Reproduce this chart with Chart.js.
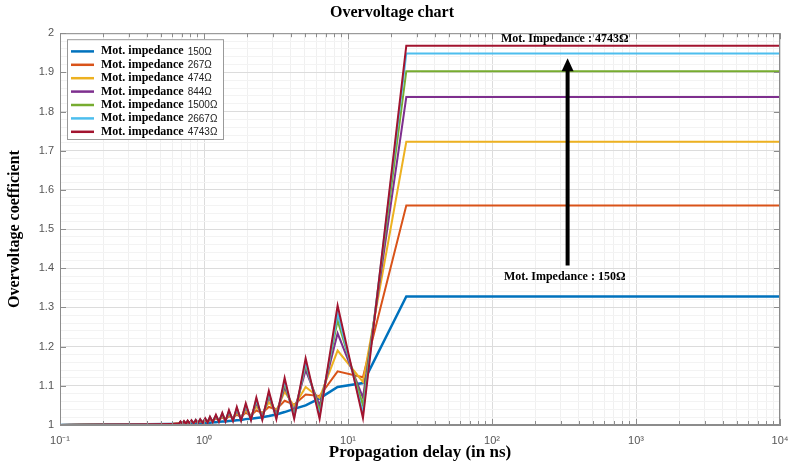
<!DOCTYPE html>
<html>
<head>
<meta charset="utf-8">
<script src="https://cdn.jsdelivr.net/npm/chart.js@4.4.1/dist/chart.umd.min.js"></script>
<style>
  html, body { margin: 0; padding: 0; background: #fff; }
</style>
</head>
<body>
<canvas id="chart" width="790" height="463"></canvas>
<script>
// propagation delay samples (ns)
const delays = [0.1, 0.2, 0.4, 0.6, 0.668, 0.686, 0.706, 0.726, 0.747, 0.770, 0.794, 0.819, 0.847, 0.876, 0.907, 0.941,
  0.98, 1.02, 1.06, 1.10, 1.15, 1.21, 1.27, 1.34, 1.41, 1.49, 1.59,
  1.69, 1.81, 1.95, 2.12, 2.31, 2.54, 2.82, 3.18, 3.63, 4.23, 5.08, 6.35, 8.47, 12.7, 25.4, 10000];

// overvoltage coefficient for each motor impedance
const z150 = [1.000, 1.001, 1.002, 1.0025, 1.003, 1.003, 1.003, 1.003, 1.0035, 1.0037, 1.0038, 1.004, 1.004, 1.0042, 1.0045, 1.0045,
  1.005, 1.005, 1.006, 1.006, 1.007, 1.007, 1.008, 1.009, 1.009, 1.010, 1.011,
  1.012, 1.013, 1.015, 1.016, 1.018, 1.020, 1.023, 1.027, 1.033, 1.041, 1.050, 1.068, 1.097, 1.107, 1.328, 1.328];
const z267 = [1.000, 1.001, 1.002, 1.0025, 1.005, 1.006, 1.005, 1.006, 1.006, 1.007, 1.006, 1.008, 1.007, 1.008, 1.007, 1.009,
  1.008, 1.011, 1.009, 1.013, 1.011, 1.016, 1.013, 1.019, 1.015, 1.022, 1.018,
  1.026, 1.021, 1.031, 1.025, 1.037, 1.031, 1.046, 1.040, 1.062, 1.052, 1.078, 1.074, 1.137, 1.122, 1.560, 1.560];
const z474 = [1.000, 1.001, 1.002, 1.0025, 1.004, 1.007, 1.004, 1.007, 1.005, 1.008, 1.005, 1.009, 1.006, 1.010, 1.006, 1.011,
  1.007, 1.013, 1.009, 1.016, 1.010, 1.019, 1.012, 1.023, 1.014, 1.027, 1.016,
  1.032, 1.019, 1.038, 1.023, 1.047, 1.028, 1.058, 1.036, 1.085, 1.048, 1.097, 1.069, 1.190, 1.110, 1.723, 1.723];
const z844 = [1.000, 1.001, 1.002, 1.0025, 1.004, 1.007, 1.004, 1.008, 1.005, 1.009, 1.005, 1.010, 1.006, 1.011, 1.006, 1.012,
  1.007, 1.014, 1.009, 1.018, 1.010, 1.022, 1.011, 1.026, 1.012, 1.031, 1.014,
  1.038, 1.016, 1.045, 1.019, 1.057, 1.022, 1.071, 1.028, 1.097, 1.035, 1.140, 1.050, 1.234, 1.070, 1.837, 1.837];
const z1500 = [1.000, 1.001, 1.002, 1.0025, 1.003, 1.008, 1.004, 1.009, 1.004, 1.010, 1.005, 1.011, 1.005, 1.012, 1.006, 1.013,
  1.007, 1.015, 1.008, 1.019, 1.009, 1.023, 1.010, 1.028, 1.011, 1.034, 1.012,
  1.041, 1.014, 1.049, 1.016, 1.062, 1.018, 1.077, 1.022, 1.105, 1.026, 1.153, 1.036, 1.267, 1.050, 1.903, 1.903];
const z2667 = [1.000, 1.001, 1.002, 1.0025, 1.003, 1.008, 1.004, 1.009, 1.004, 1.010, 1.004, 1.011, 1.005, 1.013, 1.005, 1.014,
  1.006, 1.016, 1.007, 1.020, 1.008, 1.024, 1.009, 1.029, 1.010, 1.035, 1.011,
  1.043, 1.012, 1.051, 1.013, 1.065, 1.015, 1.081, 1.018, 1.112, 1.020, 1.160, 1.024, 1.285, 1.030, 1.948, 1.948];
const z4743 = [1.000, 1.001, 1.002, 1.0025, 1.003, 1.009, 1.003, 1.010, 1.003, 1.011, 1.004, 1.012, 1.004, 1.013, 1.004, 1.015,
  1.005, 1.017, 1.006, 1.021, 1.007, 1.026, 1.008, 1.031, 1.009, 1.038, 1.010,
  1.046, 1.011, 1.055, 1.012, 1.070, 1.013, 1.087, 1.015, 1.120, 1.016, 1.170, 1.016, 1.305, 1.018, 1.968, 1.968];

const impedances = ['150', '267', '474', '844', '1500', '2667', '4743'];
const series = [z150, z267, z474, z844, z1500, z2667, z4743];
const colors = ['#0072BD', '#D95319', '#EDB120', '#7E2F8E', '#77AC30', '#4DBEEE', '#A2142F'];

// axis ticks
const decades = [0.1, 1, 10, 100, 1000, 10000];
const decadeLabels = ['10\u207B\u00B9', '10\u2070', '10\u00B9', '10\u00B2', '10\u00B3', '10\u2074'];
const yMin = 1, yMax = 2, yMajor = 0.1, yMinor = 0.02;

// arrow annotation (data coordinates)
const arrowX = 335, arrowTop = 1.936, arrowBottom = 1.407;
const noteTop = { x: 320, y: 1.985, text: 'Mot. Impedance : 4743\u03A9' };
const noteBottom = { x: 320, y: 1.377, text: 'Mot. Impedance : 150\u03A9' };

const serif = "'Liberation Serif', 'Times New Roman', serif";
const sans = "'Liberation Sans', Arial, sans-serif";

function isDecade(v) {
  return decades.some(d => Math.abs(v - d) / d < 1e-6);
}
function isYMajor(v) {
  const q = v / yMajor;
  return Math.abs(q - Math.round(q)) < 1e-6;
}

const datasets = series.map((vals, i) => ({
  label: 'Mot. impedance ' + impedances[i] + '\u03A9',
  data: delays.map((d, j) => ({ x: d, y: vals[j] })),
  borderColor: colors[i],
  backgroundColor: colors[i],
  borderWidth: i === 0 ? 2.5 : 2,
  pointRadius: 0,
  tension: 0,
  order: series.length - i
}));

// box round the plot with small inward tick marks (matlab style)
const boxPlugin = {
  id: 'box',
  afterDatasetsDraw(chart) {
    const { ctx, chartArea: a } = chart;
    const xs = chart.scales.x, ys = chart.scales.y;
    ctx.save();
    ctx.strokeStyle = '#8c8c8c';
    ctx.lineWidth = 1;
    ctx.strokeRect(a.left + 0.5, a.top + 0.5, a.right - a.left - 1, a.bottom - a.top - 1);
    ctx.beginPath();
    xs.ticks.forEach(t => {
      const px = Math.round(xs.getPixelForValue(t.value)) + 0.5;
      const len = isDecade(t.value) ? 6 : 4;
      ctx.moveTo(px, a.bottom);
      ctx.lineTo(px, a.bottom - len);
      ctx.moveTo(px, a.top);
      ctx.lineTo(px, a.top + len);
    });
    ys.ticks.forEach(t => {
      if (!isYMajor(t.value)) return;
      const py = Math.round(ys.getPixelForValue(t.value)) + 0.5;
      ctx.moveTo(a.left, py);
      ctx.lineTo(a.left + 6, py);
      ctx.moveTo(a.right, py);
      ctx.lineTo(a.right - 6, py);
    });
    ctx.stroke();
    ctx.restore();
  }
};

const notePlugin = {
  id: 'notes',
  afterDatasetsDraw(chart) {
    const { ctx } = chart;
    const xs = chart.scales.x, ys = chart.scales.y;
    const ax = xs.getPixelForValue(arrowX);
    const top = ys.getPixelForValue(arrowTop);
    const bot = ys.getPixelForValue(arrowBottom);
    ctx.save();
    ctx.strokeStyle = '#000';
    ctx.fillStyle = '#000';
    ctx.lineWidth = 4;
    ctx.beginPath();
    ctx.moveTo(ax, bot);
    ctx.lineTo(ax, top + 10);
    ctx.stroke();
    ctx.beginPath();
    ctx.moveTo(ax, top);
    ctx.lineTo(ax - 6, top + 13);
    ctx.lineTo(ax + 6, top + 13);
    ctx.closePath();
    ctx.fill();
    ctx.font = 'bold 12px ' + serif;
    ctx.textAlign = 'center';
    ctx.textBaseline = 'middle';
    [noteTop, noteBottom].forEach(n => {
      ctx.fillText(n.text, xs.getPixelForValue(n.x), ys.getPixelForValue(n.y));
    });
    ctx.restore();
  }
};

const legendPlugin = {
  id: 'boxLegend',
  afterDraw(chart) {
    const { ctx, chartArea: a } = chart;
    const x0 = a.left + 7, y0 = a.top + 6, w = 156, rowH = 13.4;
    const h = rowH * impedances.length + 6;
    ctx.save();
    ctx.fillStyle = '#fff';
    ctx.fillRect(x0, y0, w, h);
    ctx.strokeStyle = '#9a9a9a';
    ctx.lineWidth = 1;
    ctx.strokeRect(x0 + 0.5, y0 + 0.5, w, h);
    impedances.forEach((z, i) => {
      const cy = y0 + 6 + rowH * i + rowH / 2 - 0.5;
      ctx.strokeStyle = colors[i];
      ctx.lineWidth = 2.5;
      ctx.beginPath();
      ctx.moveTo(x0 + 4, cy);
      ctx.lineTo(x0 + 27, cy);
      ctx.stroke();
      ctx.fillStyle = '#000';
      ctx.textBaseline = 'middle';
      ctx.font = 'bold 12px ' + serif;
      ctx.fillText('Mot. impedance', x0 + 34, cy);
      const tw = ctx.measureText('Mot. impedance').width;
      ctx.font = '10px ' + sans;
      ctx.fillStyle = '#222';
      ctx.fillText(z + '\u03A9', x0 + 34 + tw + 4, cy + 0.5);
    });
    ctx.restore();
  }
};

new Chart(document.getElementById('chart'), {
  type: 'line',
  data: { datasets: datasets },
  plugins: [boxPlugin, notePlugin, legendPlugin],
  options: {
    responsive: false,
    animation: false,
    layout: { padding: { left: 4, right: 10, top: 0, bottom: 0 } },
    plugins: {
      legend: { display: false },
      tooltip: { enabled: false },
      title: {
        display: true,
        text: 'Overvoltage chart',
        color: '#000',
        font: { family: serif, size: 16, weight: 'bold' },
        padding: { top: 3, bottom: 11 }
      }
    },
    scales: {
      x: {
        type: 'logarithmic',
        min: 0.1,
        max: 10000,
        afterBuildTicks(scale) {
          const ticks = [];
          decades.forEach(d => {
            for (let k = 1; k <= 9; k++) {
              const v = +(d * k).toPrecision(6);
              if (v <= 10000) ticks.push({ value: v, major: k === 1 });
            }
          });
          scale.ticks = ticks;
        },
        afterFit(scale) {
          scale.height = 38;
          scale.paddingRight = 0;
        },
        ticks: {
          autoSkip: false,
          maxRotation: 0,
          padding: 9,
          color: '#555',
          font: { family: sans, size: 11 },
          callback(v) {
            const i = decades.findIndex(d => Math.abs(v - d) / d < 1e-6);
            return i >= 0 ? decadeLabels[i] : '';
          }
        },
        grid: {
          drawTicks: false,
          color: ctx => (ctx.tick && isDecade(ctx.tick.value)) ? '#dcdcdc' : '#f0f0f0'
        },
        border: { color: '#8c8c8c' },
        title: {
          display: true,
          text: 'Propagation delay (in ns)',
          color: '#000',
          font: { family: serif, size: 17, weight: 'bold' },
          padding: { top: 0, bottom: 0 }
        }
      },
      y: {
        type: 'linear',
        min: yMin,
        max: yMax,
        afterBuildTicks(scale) {
          const ticks = [];
          const n = Math.round((yMax - yMin) / yMinor);
          for (let i = 0; i <= n; i++) ticks.push({ value: +(yMin + i * yMinor).toFixed(2) });
          scale.ticks = ticks;
        },
        afterFit(scale) { scale.width = 56; },
        ticks: {
          autoSkip: false,
          padding: 6,
          color: '#555',
          font: { family: sans, size: 11 },
          callback(v) {
            return isYMajor(v) ? String(Math.round(v / yMajor) / 10) : '';
          }
        },
        grid: {
          drawTicks: false,
          color: ctx => (ctx.tick && isYMajor(ctx.tick.value)) ? '#dcdcdc' : '#f3f3f3'
        },
        border: { color: '#8c8c8c' },
        title: {
          display: true,
          text: 'Overvoltage coefficient',
          color: '#000',
          font: { family: serif, size: 16, weight: 'bold' },
          padding: { top: 1, bottom: 0 }
        }
      }
    }
  }
});
</script>
</body>
</html>
